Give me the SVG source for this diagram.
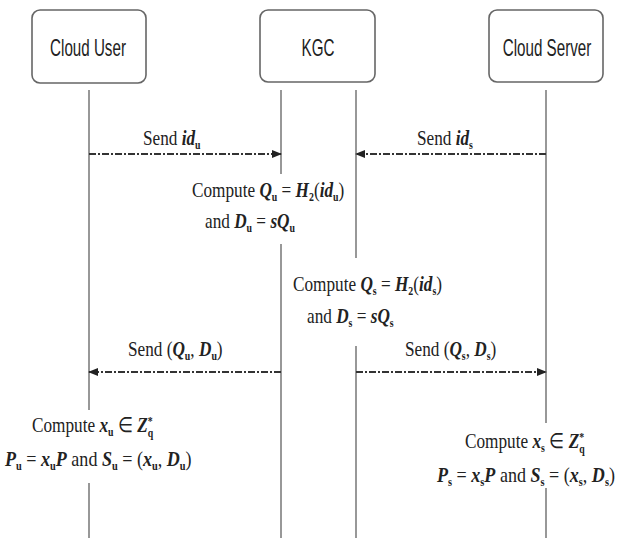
<svg xmlns="http://www.w3.org/2000/svg" width="622" height="538" viewBox="0 0 622 538">
  <defs>
    <marker id="head" viewBox="0 0 10 10" refX="9" refY="5" markerWidth="10" markerHeight="10" markerUnits="userSpaceOnUse" orient="auto">
      <path d="M0,1 L10,5 L0,9 Z" fill="#222"/>
    </marker>
    <style>
      .box { fill: #fff; stroke: #666; stroke-width: 1.6; }
      .name { font-family: "Liberation Sans", Arial, sans-serif; font-size: 23px; fill: #222; text-anchor: middle; }
      .life { stroke: #777; stroke-width: 1.5; fill: none; }
      .msg { stroke: #333; stroke-width: 2; stroke-dasharray: 7 2 2 2; fill: none; marker-end: url(#head); }
      .t { font-family: "Liberation Serif", "Times New Roman", serif; font-size: 21px; fill: #222; }
      .m { font-weight: bold; font-style: italic; }
      .sb { font-size: 12px; font-weight: bold; }
    </style>
  </defs>

  <!-- participants (condensed sans via horizontal scale) -->
  <g id="cloud-user">
    <rect class="box" x="32" y="10" width="114" height="73" rx="8"/>
    <text class="name" transform="translate(88,56) scale(0.66,1)">Cloud User</text>
  </g>
  <g id="kgc">
    <rect class="box" x="260" y="10" width="115" height="72" rx="8"/>
    <text class="name" transform="translate(318,56) scale(0.66,1)">KGC</text>
  </g>
  <g id="cloud-server">
    <rect class="box" x="489" y="10" width="114" height="72" rx="8"/>
    <text class="name" transform="translate(547,56) scale(0.66,1)">Cloud Server</text>
  </g>

  <!-- lifelines -->
  <g id="lifelines">
    <path class="life" d="M89,90 V410 M89,483 V538"/>
    <path class="life" d="M281,90 V174 M281,244 V538"/>
    <path class="life" d="M356,90 V258 M356,346 V538"/>
    <path class="life" d="M546,90 V423 M546,488 V538"/>
  </g>

  <!-- messages -->
  <g id="connectors">
    <line class="msg" x1="89" y1="154" x2="281" y2="154"/>
    <line class="msg" x1="546" y1="154" x2="356" y2="154"/>
    <line class="msg" x1="281" y1="372" x2="89" y2="372"/>
    <line class="msg" x1="356" y1="372" x2="546" y2="372"/>
  </g>

  <!-- message labels (condensed serif via horizontal scale) -->
  <g id="labels">
    <text class="t" transform="translate(143,145) scale(0.82,1)">Send <tspan class="m">id</tspan><tspan class="sb" dy="4">u</tspan></text>
    <text class="t" transform="translate(417,145) scale(0.82,1)">Send <tspan class="m">id</tspan><tspan class="sb" dy="4">s</tspan></text>
    <text class="t" transform="translate(128,356) scale(0.82,1)">Send (<tspan class="m">Q</tspan><tspan class="sb" dy="4">u</tspan><tspan dy="-4">, </tspan><tspan class="m">D</tspan><tspan class="sb" dy="4">u</tspan><tspan dy="-4">)</tspan></text>
    <text class="t" transform="translate(405,356) scale(0.82,1)">Send (<tspan class="m">Q</tspan><tspan class="sb" dy="4">s</tspan><tspan dy="-4">, </tspan><tspan class="m">D</tspan><tspan class="sb" dy="4">s</tspan><tspan dy="-4">)</tspan></text>
  </g>

  <!-- computations -->
  <g id="kgc-user-keys">
    <text class="t" transform="translate(192,197) scale(0.82,1)">Compute <tspan class="m">Q</tspan><tspan class="sb" dy="4">u</tspan><tspan dy="-4"> = </tspan><tspan class="m">H</tspan><tspan class="sb" dy="4">2</tspan><tspan dy="-4">(</tspan><tspan class="m">id</tspan><tspan class="sb" dy="4">u</tspan><tspan dy="-4">)</tspan></text>
    <text class="t" transform="translate(205,228) scale(0.82,1)">and <tspan class="m">D</tspan><tspan class="sb" dy="4">u</tspan><tspan dy="-4"> = </tspan><tspan class="m">sQ</tspan><tspan class="sb" dy="4">u</tspan></text>
  </g>
  <g id="kgc-server-keys">
    <text class="t" transform="translate(293,291) scale(0.82,1)">Compute <tspan class="m">Q</tspan><tspan class="sb" dy="4">s</tspan><tspan dy="-4"> = </tspan><tspan class="m">H</tspan><tspan class="sb" dy="4">2</tspan><tspan dy="-4">(</tspan><tspan class="m">id</tspan><tspan class="sb" dy="4">s</tspan><tspan dy="-4">)</tspan></text>
    <text class="t" transform="translate(307,323) scale(0.82,1)">and <tspan class="m">D</tspan><tspan class="sb" dy="4">s</tspan><tspan dy="-4"> = </tspan><tspan class="m">sQ</tspan><tspan class="sb" dy="4">s</tspan></text>
  </g>
  <g id="user-secret">
    <text class="t" transform="translate(32,432) scale(0.82,1)">Compute <tspan class="m">x</tspan><tspan class="sb" dy="4">u</tspan><tspan dy="-4"> ∈ </tspan><tspan class="m">Z</tspan><tspan class="sb" dy="-7">*</tspan><tspan class="sb" dx="-6" dy="12">q</tspan></text>
    <text class="t" transform="translate(5,466) scale(0.86,1)"><tspan class="m">P</tspan><tspan class="sb" dy="4">u</tspan><tspan dy="-4"> = </tspan><tspan class="m">x</tspan><tspan class="sb" dy="4">u</tspan><tspan class="m" dy="-4">P</tspan> and <tspan class="m">S</tspan><tspan class="sb" dy="4">u</tspan><tspan dy="-4"> = (</tspan><tspan class="m">x</tspan><tspan class="sb" dy="4">u</tspan><tspan dy="-4">, </tspan><tspan class="m">D</tspan><tspan class="sb" dy="4">u</tspan><tspan dy="-4">)</tspan></text>
  </g>
  <g id="server-secret">
    <text class="t" transform="translate(465,448) scale(0.82,1)">Compute <tspan class="m">x</tspan><tspan class="sb" dy="4">s</tspan><tspan dy="-4"> ∈ </tspan><tspan class="m">Z</tspan><tspan class="sb" dy="-7">*</tspan><tspan class="sb" dx="-6" dy="12">q</tspan></text>
    <text class="t" transform="translate(437,482) scale(0.86,1)"><tspan class="m">P</tspan><tspan class="sb" dy="4">s</tspan><tspan dy="-4"> = </tspan><tspan class="m">x</tspan><tspan class="sb" dy="4">s</tspan><tspan class="m" dy="-4">P</tspan> and <tspan class="m">S</tspan><tspan class="sb" dy="4">s</tspan><tspan dy="-4"> = (</tspan><tspan class="m">x</tspan><tspan class="sb" dy="4">s</tspan><tspan dy="-4">, </tspan><tspan class="m">D</tspan><tspan class="sb" dy="4">s</tspan><tspan dy="-4">)</tspan></text>
  </g>
</svg>
